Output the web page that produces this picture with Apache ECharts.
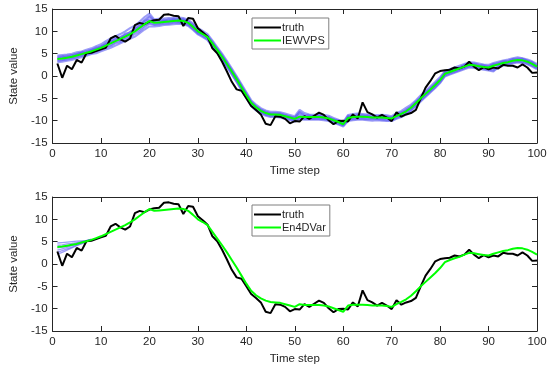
<!DOCTYPE html>
<html><head><meta charset="utf-8">
<script src="https://cdn.jsdelivr.net/npm/echarts@6/dist/echarts.min.js"></script>
<style>html,body{margin:0;padding:0;background:#fff}#c{width:550px;height:368px}</style>
</head><body><div id="c"></div>
<script>
// Time steps 1..100
var steps = [];
for (var i = 1; i <= 100; i++) steps.push(i);
var xTicks = [0,10,20,30,40,50,60,70,80,90,100];
var yTicks = [-15,-10,-5,0,5,10,15];

var truth = [2.8,-0.4,2.3,1.5,3.6,3.0,5.1,5.2,5.6,6.0,
 6.3,8.4,9.0,8.2,7.7,8.4,11.4,11.9,11.6,12.2,
 12.5,12.6,13.7,13.8,13.5,13.4,11.2,13.0,12.8,10.7,
 9.8,8.8,6.2,5.1,3.2,1.0,-1.3,-3.0,-3.3,-5.0,
 -6.7,-7.6,-8.6,-10.7,-11.0,-9.0,-9.1,-9.6,-10.6,-10.1,
 -10.2,-9.0,-9.6,-8.9,-8.2,-8.7,-9.9,-10.8,-10.1,-10.0,
 -10.2,-8.6,-9.5,-5.9,-8.1,-8.6,-9.3,-8.7,-9.3,-10.1,
 -8.1,-9.1,-8.6,-8.3,-7.6,-5.0,-2.6,-1.1,0.6,1.1,
 1.3,1.4,1.9,1.7,2.1,3.2,2.1,1.3,2.0,1.5,
 1.9,1.7,2.5,2.3,2.3,1.9,2.6,1.9,0.7,0.8];

var iewvps = [3.8,3.9,4.1,4.3,4.6,4.9,5.2,5.5,5.9,6.3,
 6.8,7.3,7.8,8.3,8.8,9.4,10.0,10.8,11.6,12.3,
 11.9,12.0,12.1,12.2,12.3,12.4,12.3,11.9,11.0,10.0,
 9.4,8.7,7.3,5.8,4.3,2.7,1.0,-0.7,-2.5,-4.3,
 -6.0,-7.0,-7.8,-8.3,-8.6,-8.6,-8.7,-9.0,-9.3,-9.6,
 -9.1,-9.2,-9.2,-9.2,-9.2,-9.3,-9.5,-9.9,-10.3,-10.8,
 -9.4,-9.2,-9.1,-9.1,-9.2,-9.3,-9.3,-9.3,-9.4,-9.5,
 -9.0,-8.5,-7.9,-7.1,-6.1,-5.0,-4.0,-3.0,-2.0,-0.9,
 0.5,0.9,1.3,1.7,2.1,2.5,2.4,2.2,2.0,1.9,
 2.3,2.6,2.9,3.1,3.4,3.6,3.5,3.2,2.7,2.1];

var en4dvar = [3.8,3.9,4.1,4.3,4.5,4.8,5.1,5.4,5.8,6.2,
 6.7,7.2,7.7,8.2,8.7,9.3,10.0,10.8,11.6,12.3,
 11.9,12.0,12.1,12.2,12.3,12.4,12.3,11.9,11.0,10.0,
 9.4,8.7,7.2,5.7,4.2,2.6,0.9,-0.8,-2.6,-4.4,
 -6.0,-7.0,-7.7,-8.2,-8.5,-8.6,-8.7,-9.0,-9.3,-9.6,
 -9.0,-9.2,-9.2,-9.2,-9.2,-9.3,-9.5,-9.9,-10.3,-10.7,
 -9.3,-9.1,-9.1,-9.1,-9.2,-9.3,-9.3,-9.3,-9.4,-9.6,
 -9.0,-8.5,-7.9,-7.1,-6.1,-5.0,-4.0,-3.0,-2.0,-0.9,
 0.4,0.9,1.3,1.6,2.1,2.5,2.4,2.2,2.0,1.9,
 2.3,2.6,2.9,3.1,3.4,3.6,3.5,3.2,2.7,2.1];

var memberA = [4.6,4.7,4.8,5.0,5.3,5.5,5.9,6.2,6.7,7.1,
 7.8,8.4,8.9,9.4,10.0,10.7,11.3,12.2,13.2,14.0,
 12.7,12.8,12.9,13.0,13.0,13.1,13.0,12.6,11.8,10.8,
 10.1,9.4,8.0,6.5,5.0,3.4,1.7,0.0,-1.8,-3.6,
 -5.4,-6.4,-7.2,-7.7,-8.0,-8.0,-8.1,-8.4,-8.7,-9.0,
 -7.6,-8.3,-8.6,-8.7,-8.6,-8.7,-8.9,-9.4,-9.8,-10.3,
 -8.7,-8.5,-8.4,-8.5,-8.6,-8.7,-8.8,-8.7,-8.8,-9.0,
 -8.3,-7.8,-7.1,-6.4,-5.4,-4.3,-3.3,-2.3,-1.3,-0.2,
 1.1,1.5,1.9,2.3,2.7,3.1,3.0,2.8,2.6,2.5,
 2.9,3.2,3.5,3.7,4.0,4.2,4.0,3.7,3.3,2.7];
var memberB = [3.1,3.2,3.4,3.6,3.9,4.2,4.5,4.9,5.1,5.5,
 5.9,6.3,6.8,7.3,7.8,8.3,8.8,9.6,10.4,11.1,
 11.1,11.2,11.4,11.5,11.6,11.7,11.6,11.2,10.3,9.3,
 8.7,8.0,6.6,5.1,3.6,2.0,0.3,-1.4,-3.2,-5.0,
 -6.7,-7.7,-8.4,-8.9,-9.2,-9.2,-9.3,-9.6,-9.9,-10.2,
 -9.7,-9.8,-9.8,-9.8,-9.8,-9.9,-10.1,-10.5,-10.9,-11.3,
 -10.1,-9.9,-9.8,-9.8,-9.9,-10.0,-9.9,-10.0,-10.1,-10.1,
 -9.6,-9.2,-8.6,-7.8,-6.8,-5.7,-4.7,-3.7,-2.7,-1.6,
 -0.1,0.3,0.7,1.1,1.5,1.9,1.8,1.6,1.4,1.2,
 1.0,1.9,2.3,2.5,2.8,3.0,2.9,2.6,2.1,1.5];
var memberC = [4.1,4.3,4.2,4.7,4.9,5.3,5.4,5.9,6.1,6.7,
 7.0,7.8,8.0,8.8,9.0,9.9,10.3,11.3,12.0,13.2,
 12.3,12.5,12.3,12.7,12.5,12.8,12.6,12.3,11.3,10.5,
 9.6,9.1,7.5,6.2,4.5,3.1,1.2,-0.3,-2.3,-3.9,
 -5.8,-6.7,-7.6,-8.0,-8.4,-8.3,-8.6,-8.7,-9.1,-9.3,
 -8.2,-8.9,-9.0,-8.9,-9.1,-9.0,-9.4,-9.6,-10.2,-10.5,
 -9.1,-8.9,-9.0,-8.8,-9.1,-9.0,-9.2,-9.0,-9.3,-9.2,
 -8.8,-8.1,-7.7,-6.8,-5.9,-4.7,-3.8,-2.7,-1.8,-0.6,
 0.8,1.1,1.6,1.9,2.4,2.7,2.7,2.4,2.3,2.1,
 2.6,2.8,3.2,3.3,3.7,3.8,3.8,3.4,3.0,2.3];
var memberD = [3.5,3.6,3.9,4.0,4.4,4.6,5.0,5.2,5.7,6.0,
 6.6,6.9,7.6,7.9,8.6,9.0,9.8,10.4,11.3,11.9,
 11.6,11.7,11.9,11.9,12.1,12.1,12.0,11.6,10.7,9.7,
 9.1,8.4,7.0,5.5,4.0,2.4,0.7,-1.0,-2.8,-4.6,
 -6.3,-7.3,-8.0,-8.6,-8.8,-8.9,-8.9,-9.3,-9.5,-9.9,
 -9.3,-9.5,-9.4,-9.5,-9.4,-9.6,-9.7,-10.2,-10.5,-11.0,
 -9.7,-9.5,-9.3,-9.4,-9.5,-9.5,-9.6,-9.6,-9.6,-9.8,
 -9.2,-8.8,-8.2,-7.4,-6.4,-5.3,-4.3,-3.3,-2.3,-1.2,
 0.2,0.7,1.0,1.5,1.8,2.3,2.1,2.0,1.7,1.6,
 1.5,2.3,2.6,2.9,3.1,3.4,3.2,3.0,2.4,1.9];
var memberE = [3.9,4.1,4.4,4.2,4.8,5.1,5.0,5.7,6.2,6.4,
 7.2,7.5,8.3,8.1,9.3,9.2,10.6,10.9,12.4,12.6,
 12.1,11.8,12.4,12.1,12.6,12.2,12.5,11.8,11.1,9.8,
 9.5,8.6,7.4,5.7,4.4,2.6,1.1,-0.8,-2.4,-4.4,
 -5.9,-7.1,-7.7,-8.4,-8.5,-8.7,-8.5,-9.1,-9.2,-9.7,
 -8.6,-9.3,-9.1,-9.3,-9.0,-9.4,-9.4,-10.0,-10.1,-10.9,
 -9.2,-9.3,-8.8,-9.2,-9.0,-9.4,-9.1,-9.4,-9.2,-9.6,
 -8.9,-8.6,-7.8,-7.2,-6.0,-5.1,-3.9,-3.1,-1.9,-1.0,
 0.6,0.8,1.4,1.6,2.2,2.4,2.5,2.1,2.1,1.8,
 2.4,2.5,3.0,3.0,3.5,3.5,3.6,3.1,2.8,2.0];
var memberF = [4.3,4.4,4.6,4.6,5.0,5.2,5.6,5.8,6.4,6.6,
 7.4,7.9,8.5,8.6,9.5,9.7,10.8,11.5,12.6,13.5,
 12.4,12.3,12.6,12.5,12.8,12.6,12.8,12.1,11.5,10.2,
 9.8,8.9,7.7,6.0,4.7,2.9,1.4,-0.5,-2.1,-4.1,
 -5.7,-6.8,-7.5,-8.1,-8.3,-8.4,-8.3,-8.8,-9.0,-9.4,
 -8.0,-8.7,-8.8,-9.1,-8.8,-9.2,-9.2,-9.8,-9.9,-10.6,
 -8.9,-9.0,-8.6,-8.9,-8.8,-9.2,-8.9,-9.2,-9.0,-9.4,
 -8.6,-8.3,-7.5,-6.9,-5.7,-4.8,-3.6,-2.8,-1.6,-0.7,
 0.9,1.2,1.7,1.9,2.5,2.8,2.8,2.5,2.4,2.2,
 2.7,2.9,3.3,3.4,3.8,3.9,3.9,3.5,3.1,2.4];
var memberG = [3.4,3.5,3.7,3.9,4.2,4.5,4.8,5.1,5.5,5.8,
 6.3,6.7,7.3,7.6,8.3,8.6,9.4,10.0,10.9,11.7,
 11.4,11.5,11.7,11.7,11.9,11.9,11.8,11.4,10.5,9.5,
 8.9,8.2,6.8,5.3,3.8,2.2,0.5,-1.2,-3.0,-4.8,
 -6.5,-7.5,-8.2,-8.7,-9.0,-9.0,-9.1,-9.4,-9.7,-10.0,
 -9.5,-9.6,-9.6,-9.6,-9.6,-9.7,-9.9,-10.3,-10.7,-11.1,
 -9.9,-9.7,-9.6,-9.6,-9.7,-9.7,-9.7,-9.8,-9.9,-9.9,
 -9.4,-9.0,-8.4,-7.6,-6.6,-5.5,-4.5,-3.5,-2.5,-1.4,
 0.1,0.5,0.9,1.3,1.7,2.1,2.0,1.8,1.6,1.4,
 1.2,2.1,2.5,2.7,3.0,3.2,3.1,2.8,2.3,1.7];

// En4DVar initial-window ensemble fan (steps 1..8)
var fanSteps = [1,2,3,4,5,6,7,8];
var fan1 = [4.7,4.8,4.9,5.0,5.1,5.2,5.3,5.5];
var fan2 = [4.2,4.3,4.5,4.6,4.8,5.0,5.2,5.5];
var fan3 = [3.6,3.8,4.0,4.3,4.6,4.9,5.2,5.5];
var fan4 = [3.1,3.4,3.7,4.1,4.4,4.8,5.1,5.5];
var fan5 = [2.6,3.0,3.4,3.8,4.2,4.6,5.0,5.4];
var fan6 = [2.2,2.6,3.1,3.6,4.1,4.5,5.0,5.4];

function pairs(xs, ys){ return xs.map(function(x,i){ return [x, ys[i]]; }); }

var FONT = 'Liberation Sans, Arial, sans-serif';
var AX = '#262626';
var grids = [
  {left:38, right:13, top:9, height:134},
  {left:38, right:13, top:197, height:134}
];
var xAxes = [], yAxes = [];
function axisCommon(){
  return {axisLine:{onZero:false, lineStyle:{color:AX, width:1}},
    axisTick:{inside:true, length:5, lineStyle:{color:AX}},
    splitLine:{show:false}};
}
[0,1].forEach(function(g){
  xAxes.push(Object.assign(axisCommon(), {type:'value', gridIndex:g, min:xTicks[0], max:xTicks[xTicks.length-1], interval:10,
    name:'Time step', nameLocation:'middle', nameGap:22,
    nameTextStyle:{color:AX, fontSize:11.5, fontFamily:FONT},
    axisLabel:{color:AX, fontSize:11.5, fontFamily:FONT, margin:5}}));
  xAxes.push(Object.assign(axisCommon(), {type:'value', gridIndex:g, position:'top', min:0, max:100, interval:10,
    axisLabel:{show:false}}));
  yAxes.push(Object.assign(axisCommon(), {type:'value', gridIndex:g, min:yTicks[0], max:yTicks[yTicks.length-1], interval:5,
    name:'State value', nameLocation:'middle', nameGap:23,
    nameTextStyle:{color:AX, fontSize:11.5, fontFamily:FONT},
    axisLabel:{color:AX, fontSize:11.5, fontFamily:FONT, margin:5}}));
  yAxes.push(Object.assign(axisCommon(), {type:'value', gridIndex:g, position:'right', min:-15, max:15, interval:5,
    axisLabel:{show:false}}));
});

function line(name, xi, yi, data, color, width, opacity, z){
  return {name:name, type:'line', xAxisIndex:xi, yAxisIndex:yi, data:data,
    showSymbol:false, symbol:'none', silent:true, animation:false, z:z||2,
    lineStyle:{color:color, width:width, opacity:opacity==null?1:opacity}, itemStyle:{color:color}};
}

var BLUE = '#5c5cf2';
var series = [];
[memberA, memberB, memberF, memberG, memberC, memberD, memberE].forEach(function(m, k){
  series.push(line('member'+k, 0, 0, pairs(steps, m), BLUE, 2, 0.6, 1));
});
series.push(line('truth', 0, 0, pairs(steps, truth), '#000000', 2, 1, 3));
series.push(line('IEWVPS', 0, 0, pairs(steps, iewvps), '#00ff00', 2, 1, 4));
[fan1, fan2, fan3, fan4, fan5, fan6].forEach(function(m, k){
  series.push(line('fan'+k, 2, 2, pairs(fanSteps, m), BLUE, 1.3, 0.6, 1));
});
series.push(line('truth', 2, 2, pairs(steps, truth), '#000000', 2, 1, 3));
series.push(line('En4DVar', 2, 2, pairs(steps, en4dvar), '#00ff00', 2, 1, 4));

function legend(top, names){
  return {left:252, top:top, orient:'vertical', data:names, icon:'rect', itemWidth:27, itemHeight:2, itemGap:2,
    padding:[4,4,3,2], backgroundColor:'#fff', borderColor:'#7f7f7f', borderWidth:1, borderRadius:0,
    selectedMode:false, textStyle:{color:AX, fontSize:11, fontFamily:FONT, padding:[0,0,0,-4]}};
}

var chart = echarts.init(document.getElementById('c'), null, {renderer:'canvas'});
chart.setOption({
  animation:false, backgroundColor:'#fff',
  grid:grids, xAxis:xAxes, yAxis:yAxes, series:series,
  legend:[legend(18, ['truth','IEWVPS']), legend(205, ['truth','En4DVar'])]
});
</script></body></html>
